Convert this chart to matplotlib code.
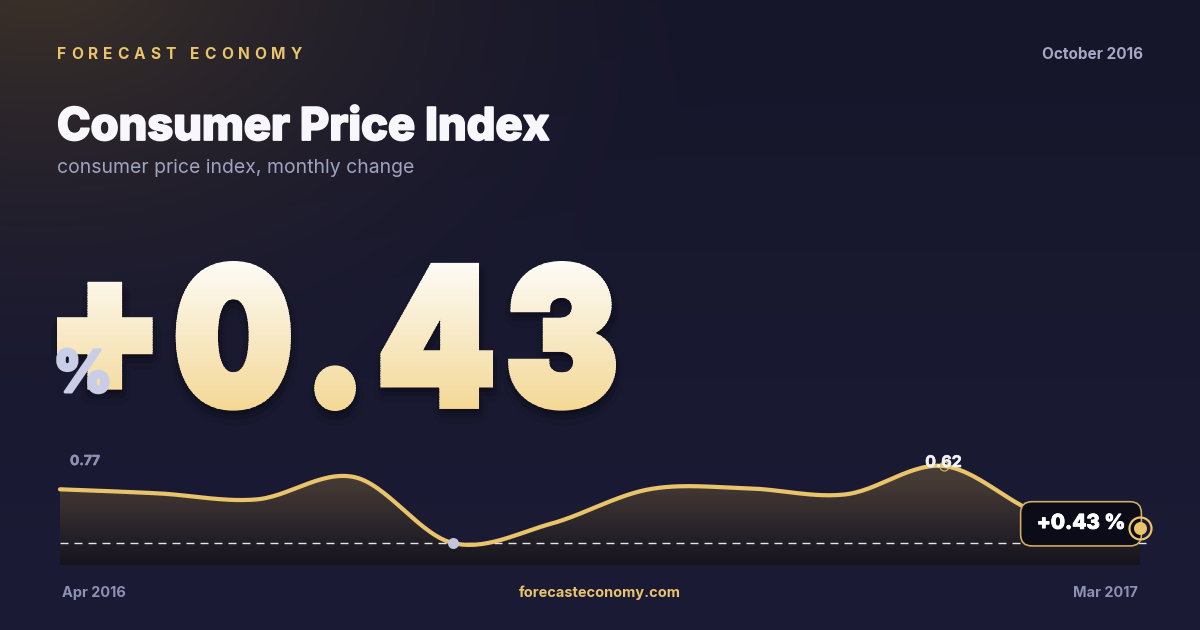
import numpy as np
import matplotlib
matplotlib.use("Agg")
import matplotlib.pyplot as plt
import matplotlib.patheffects as pe
from matplotlib.textpath import TextPath, TextToPath
from matplotlib.font_manager import FontProperties
from matplotlib.patches import PathPatch, Polygon, Rectangle
from matplotlib.path import Path
from matplotlib.transforms import Affine2D

# data
months = ["Apr 2016", "May 2016", "Jun 2016", "Jul 2016", "Aug 2016", "Sep 2016",
          "Oct 2016", "Nov 2016", "Dec 2016", "Jan 2017", "Feb 2017", "Mar 2017"]
cpi_change = [0.39, 0.35, 0.29, 0.51, -0.14, 0.05, 0.39, 0.40, 0.34, 0.62, 0.14, 0.01]
range_labels = [0.77, -0.14]
headline_value = 0.43
headline_date = "October 2016"
brand = "FORECAST ECONOMY"
title = "Consumer Price Index"
subtitle = "consumer price index, monthly change"
site = "forecasteconomy.com"

W, H = 1200, 630
GOLD = "#e9c46a"
LAV = "#8e91b2"
FONT = "Inter"


def px(v):
    # pixel size -> points at dpi 100
    return v * 0.72


def bolder(w, c):
    return [pe.withStroke(linewidth=px(w), foreground=c)]


def catmull(x, y, steps=30):
    x = np.asarray(x, float)
    y = np.asarray(y, float)
    qx = np.r_[x[0], x, x[-1]]
    qy = np.r_[y[0], y, y[-1]]
    t = np.linspace(0, 1, steps, endpoint=False)
    outx, outy = [], []
    for i in range(1, len(x)):
        for q, out in ((qx, outx), (qy, outy)):
            p0, p1, p2, p3 = q[i - 1], q[i], q[i + 1], q[i + 2]
            out.append(0.5 * (2 * p1 + (-p0 + p2) * t
                              + (2 * p0 - 5 * p1 + 4 * p2 - p3) * t ** 2
                              + (-p0 + 3 * p1 - 3 * p2 + p3) * t ** 3))
    return np.r_[np.concatenate(outx), x[-1]], np.r_[np.concatenate(outy), y[-1]]


def hexrgb(h):
    h = h.lstrip("#")
    return np.array([int(h[i:i + 2], 16) for i in (0, 2, 4)]) / 255


fig = plt.figure(figsize=(12, 6.3), dpi=100)
bg = fig.add_axes([0, 0, 1, 1])
bg.set_xlim(0, W)
bg.set_ylim(H, 0)
bg.axis("off")

# background: dark navy with warm glow in the top-left corner
yy, xx = np.mgrid[0:H, 0:W]
base = hexrgb("#16162a") + (hexrgb("#1b1b36") - hexrgb("#16162a")) * (yy / H)[..., None]
d = np.sqrt(((xx - 40) / 700) ** 2 + ((yy + 30) / 460) ** 2)
g = np.clip(1 - d, 0, 1) ** 1.7
img = base * (1 - g[..., None]) + hexrgb("#3e3329") * g[..., None]
bg.imshow(img, extent=(0, W, H, 0), aspect="auto", zorder=0, interpolation="bilinear")

# header
fig.canvas.draw()
rend = fig.canvas.get_renderer()
chars = []
for c in brand:
    t = bg.text(0, 59, c, color=GOLD, fontsize=px(15.5), fontweight="bold",
                family=FONT, va="baseline", ha="left", zorder=5)
    chars.append((t, t.get_window_extent(rend).width if c != " " else 5.0))
natural = sum(w for _, w in chars)
track = (302 - 57 - natural) / (len(chars) - 1)
xc = 57
for t, w in chars:
    t.set_x(xc)
    xc += w + track

bg.text(1143, 59, headline_date, color="#a6a9c6", fontsize=px(15.3), fontweight="bold",
        family=FONT, ha="right", va="baseline", zorder=5)
bg.text(57, 140, title, color="#f7f7fc", fontsize=px(45.2), fontweight="heavy",
        family=FONT, ha="left", va="baseline", zorder=5,
        path_effects=bolder(1.8, "#f7f7fc"))
bg.text(57, 173, subtitle, color="#a0a3c0", fontsize=px(19.4), family=FONT,
        ha="left", va="baseline", zorder=5)

# big headline number, tight tracking with a vertical gradient
big = f"{headline_value:+.2f}"
fp = FontProperties(family=FONT, weight="black", size=100)
t2p = TextToPath()


def glyph_path(trk):
    parts = []
    xg = 0.0
    for c in big:
        tp = TextPath((xg, 0), c, size=100, prop=fp)
        p = Path(tp.vertices, tp.codes)
        if c in "+-":
            e = p.get_extents()
            p = p.transformed(Affine2D().translate(0, 36.4 - (e.y0 + e.y1) / 2))
        parts.append(p)
        xg += t2p.get_text_width_height_descent(c, fp, ismath=False)[0] + trk
    return Path.make_compound_path(*parts)


s = 8.0  # extra stroke weight in px
top_y, bot_y, left_x, right_x = 261, 411, 57, 616
e0 = glyph_path(0).get_extents()
sy = (bot_y - top_y - s) / e0.height
sx = sy * 0.88
trk = ((right_x - left_x - s) / sx - e0.width) / (len(big) - 1)
pb = glyph_path(trk)
e = pb.get_extents()
tr = (Affine2D().translate(-e.x0, -e.y0).scale(sx, -sy)
      .translate(left_x + s / 2, bot_y - s / 2))

for lw, a, dy in ((22, 0.10, 8), (14, 0.14, 6), (8, 0.18, 4)):
    sh = PathPatch(pb, transform=tr + Affine2D().translate(1, dy) + bg.transData,
                   fc="#07070e", ec="#07070e", lw=px(lw), alpha=a, zorder=3,
                   joinstyle="round")
    bg.add_patch(sh)

nb = 60
edges = np.linspace(top_y - 3, bot_y + 3, nb + 1)
c_top, c_bot = hexrgb("#fdfcf8"), hexrgb("#f3d794")
for i in range(nb):
    f = i / (nb - 1)
    col = c_top * (1 - f) + c_bot * f
    band = PathPatch(pb, transform=tr + bg.transData, fc=col, ec=col, lw=px(s),
                     zorder=4, joinstyle="miter")
    bg.add_patch(band)
    band.set_clip_path(Rectangle((0, edges[i] - 0.6), W, edges[i + 1] - edges[i] + 1.2,
                                 transform=bg.transData))

bg.text(53, 392, "%", color="#c9cde8", fontsize=px(58), fontweight="heavy",
        family=FONT, ha="left", va="baseline", zorder=6,
        path_effects=bolder(3, "#c9cde8"))

# sparkline chart
x0, x1, ytop, ybot = 60, 1140, 440, 565
ppu = (543 - 466) / (0.62 + 0.14)
ylo = -0.14 - (ybot - 543) / ppu
yhi = -0.14 + (543 - ytop) / ppu
ax = fig.add_axes([x0 / W, (H - ybot) / H, (x1 - x0) / W, (ybot - ytop) / H])
ax.set_xlim(0, len(months) - 1)
ax.set_ylim(ylo, yhi)
ax.axis("off")
ax.patch.set_alpha(0)

idx = np.arange(len(months))
xs, ys = catmull(idx, cpi_change)
area = Polygon(np.vstack([np.c_[xs, ys], [[xs[-1], ylo], [xs[0], ylo]]]), closed=True,
               transform=ax.transData, fc="none", ec="none")
ax.add_patch(area)
stops_px = [440, 480, 540, 565]
stops_c = [hexrgb(c) for c in ("#52453b", "#463b35", "#231f27", "#15141c")]
rp = np.linspace(440, 565, 250)
fill = np.stack([np.interp(rp, stops_px, [c[k] for c in stops_c]) for k in range(3)], axis=-1)
fill = np.repeat(fill[:, None, :], 2, axis=1)
fim = ax.imshow(fill, extent=(0, len(months) - 1, ylo, yhi), aspect="auto",
                zorder=1, interpolation="bilinear")
fim.set_clip_path(area)

lo = min(cpi_change)
ax.plot([0, len(months) - 1 + 0.06], [lo, lo], color="#e4e4ee", lw=px(1.4),
        dashes=(8 / 1.4, 6 / 1.4), zorder=3, clip_on=False)
ax.plot(xs, ys, color=GOLD, lw=px(4.2), solid_capstyle="round", zorder=4, clip_on=False)

imin = int(np.argmin(cpi_change))
imax = int(np.argmax(cpi_change))
ax.plot(imin, cpi_change[imin], "o", ms=px(11), color="#c3c6de", mec="none", zorder=6)
ax.plot(imax, cpi_change[imax], "o", ms=px(9), mfc="none", mec="#d8b45c", mew=px(1.2),
        zorder=6, clip_on=False)
ax.annotate(f"{cpi_change[imax]:.2f}", (imax, cpi_change[imax]), xytext=(0, -1),
            textcoords="offset pixels", ha="center", va="baseline", color="#f2f2f5",
            fontsize=px(16), fontweight="bold", family=FONT, zorder=7,
            annotation_clip=False, path_effects=bolder(0.6, "#f2f2f5"))

last = len(months) - 1
ax.annotate(f"\u2009{headline_value:+.2f} %\u2009", (last, cpi_change[-1]),
            xytext=(-59, 4), textcoords="offset pixels", ha="center", va="center",
            color="white", fontsize=px(20.5), fontweight="heavy", family=FONT, zorder=8,
            annotation_clip=False, path_effects=bolder(0.9, "white"),
            bbox=dict(boxstyle="round,pad=0.64,rounding_size=0.55", fc="#0b0c18",
                      ec="#d4b060", lw=px(1.6)))
ax.plot(last, cpi_change[-1], "o", ms=px(22), mfc="none", mec=GOLD, mew=px(2.2),
        zorder=9, clip_on=False)
ax.plot(last, cpi_change[-1], "o", ms=px(13), color=GOLD, mec="none", zorder=9,
        clip_on=False)

# range labels and footer
bg.text(70, 461, f"{range_labels[0]:.2f}", color=LAV, fontsize=px(13.8),
        fontweight="bold", family=FONT, va="center", ha="left", zorder=7,
        path_effects=bolder(0.5, LAV))
bg.text(70, 548, f"{range_labels[1]:.2f}", color=LAV, fontsize=px(13.8),
        fontweight="bold", family=FONT, va="center", ha="left", zorder=7,
        path_effects=bolder(0.5, LAV))
bg.text(62, 597, months[0], color=LAV, fontsize=px(14.5), fontweight="bold",
        family=FONT, ha="left", va="baseline")
bg.text(1138, 597, months[-1], color=LAV, fontsize=px(14.5), fontweight="bold",
        family=FONT, ha="right", va="baseline")
bg.text(600, 597, site, color=GOLD, fontsize=px(14.5), fontweight="bold",
        family=FONT, ha="center", va="baseline")

fig.savefig("out.png", dpi=100, facecolor="#16162a")
